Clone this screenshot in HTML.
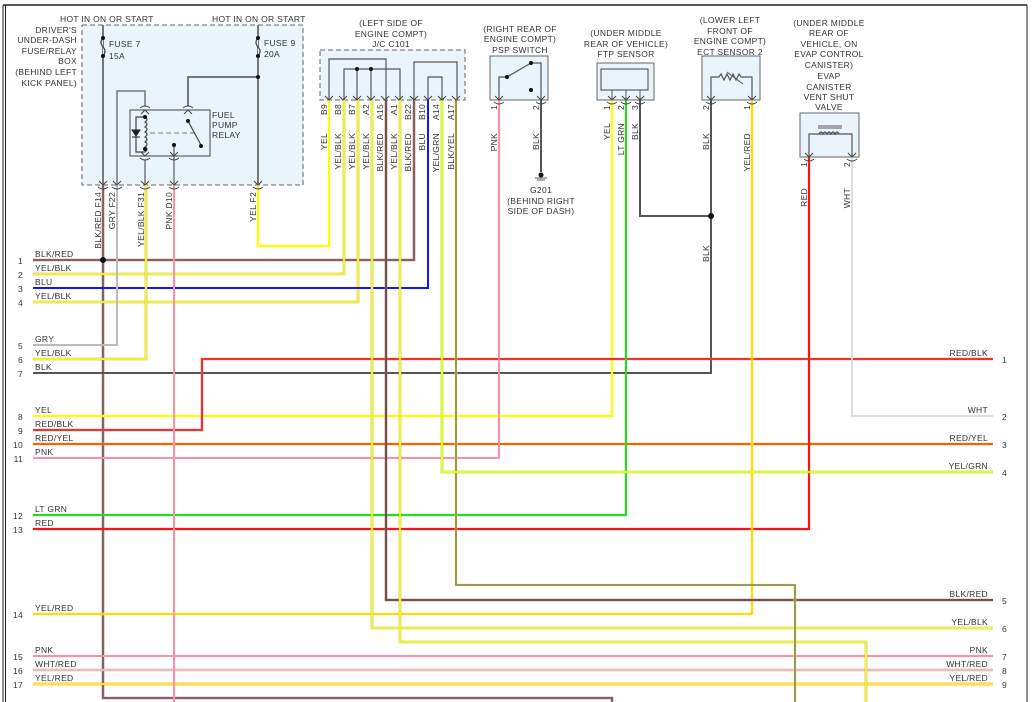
<!DOCTYPE html>
<html><head><meta charset="utf-8"><style>
html,body{margin:0;padding:0;background:#fff}
svg{display:block}
text{font-family:"Liberation Sans",sans-serif;font-size:8.5px;fill:#333;letter-spacing:0.3px}
</style></head><body>
<svg width="1032" height="702" viewBox="0 0 1032 702" xmlns="http://www.w3.org/2000/svg">
<line x1="3" y1="5" x2="1027" y2="5" stroke="#222" stroke-width="1.5"/>
<line x1="3" y1="5" x2="3" y2="702" stroke="#222" stroke-width="1"/>
<line x1="5.5" y1="5" x2="5.5" y2="702" stroke="#222" stroke-width="1"/>
<line x1="1027" y1="5" x2="1027" y2="702" stroke="#222" stroke-width="1"/>

<rect x="82" y="25" width="221" height="160" fill="#e9f5fb" stroke="#666" stroke-dasharray="5,3"/>
<rect x="320" y="50" width="145" height="50" fill="#e9f5fb" stroke="#666" stroke-dasharray="5,3"/>
<rect x="490" y="56" width="58" height="44" fill="#e9f5fb" stroke="#666"/>
<rect x="597" y="63" width="57" height="37" fill="#e9f5fb" stroke="#666"/>
<rect x="601" y="69" width="47" height="21" fill="none" stroke="#444"/>
<rect x="702" y="56" width="58" height="44" fill="#e9f5fb" stroke="#666"/>
<rect x="800" y="113" width="59" height="44" fill="#e9f5fb" stroke="#666"/>
<rect x="130" y="110" width="80" height="46" fill="none" stroke="#444"/>

<g fill="none" stroke-linejoin="miter">
<polyline points="103,25 103,185" stroke="#777" stroke-width="2"/>
<polyline points="258,25 258,185" stroke="#777" stroke-width="2"/>
<polyline points="258,77 188,77 188,106" stroke="#777" stroke-width="2"/>
<polyline points="117,185 117,91 145,91 145,106" stroke="#777" stroke-width="1.5"/>
<polyline points="145,160 145,185" stroke="#777" stroke-width="1.5"/>
<polyline points="174,146 174,185" stroke="#777" stroke-width="1.5"/>
<path d="M103,38 q-4,4 0,9 q4,4 0,9" stroke="#444" stroke-width="1.2" fill="#e9f5fb"/>
<path d="M258,38 q-4,4 0,9 q4,4 0,9" stroke="#444" stroke-width="1.2" fill="#e9f5fb"/>
<polyline points="145,117 145,152" stroke="#e9f5fb" stroke-width="3"/>
<path d="M145,117 q4,2 0,5 q4,2 0,5 q4,2 0,5 q4,2 0,5 q4,2 0,5 q4,2 0,5 q4,2 0,5" stroke="#444" stroke-width="1.2"/>
<polyline points="145,117 136,117 136,152 145,152" stroke="#444" stroke-width="1.2"/>
<polygon points="132,130 140,130 136,136" fill="#222" stroke="#222"/>
<line x1="132" y1="137" x2="140" y2="137" stroke="#222"/>
<line x1="150" y1="133" x2="195" y2="133" stroke="#777" stroke-dasharray="5,3"/>
<line x1="188" y1="121" x2="201" y2="145" stroke="#444" stroke-width="1.2"/>
<polyline points="329,100 329,59 386,59 386,100" stroke="#555" stroke-width="1.2"/>
<polyline points="344,100 344,69 400,69 400,100" stroke="#555" stroke-width="1.2"/>
<line x1="357" y1="69" x2="357" y2="100" stroke="#555" stroke-width="1.2"/>
<line x1="371" y1="69" x2="371" y2="100" stroke="#555" stroke-width="1.2"/>
<polyline points="414,100 414,62 457,62 457,100" stroke="#555" stroke-width="1.2"/>
<polyline points="428,100 428,77 442,77 442,100" stroke="#555" stroke-width="1.2"/>
<polyline points="499,100 499,77 507,77 531,63 541,63 541,100" stroke="#555" stroke-width="1.2"/>
<line x1="612" y1="90" x2="612" y2="100" stroke="#555"/><line x1="626" y1="90" x2="626" y2="100" stroke="#555"/><line x1="640" y1="90" x2="640" y2="100" stroke="#555"/>
<polyline points="711,100 711,77 719,77 721,74 724,80 727,74 730,80 733,74 736,80 739,74 741,77 752,77 752,100" stroke="#555" stroke-width="1.2"/>
<line x1="727" y1="72" x2="743" y2="84" stroke="#555"/>
<polyline points="809,157 809,134 852,134 852,157" stroke="#555" stroke-width="1.2"/>
<path d="M819,134 q2,-4 4,0 q2,-4 4,0 q2,-4 4,0 q2,-4 4,0 q2,-4 4,0" stroke="#555" stroke-width="1.2"/>
<line x1="818" y1="126" x2="842" y2="126" stroke="#555"/><line x1="818" y1="128" x2="842" y2="128" stroke="#555"/>

<polyline points="33,260 414,260 414,100" stroke="#e06060" stroke-width="2.6"/>
<polyline points="33,260 414,260 414,100" stroke="#6a6a6a" stroke-width="1.8"/>
<polyline points="103,185 103,698 612,698 612,702" stroke="#e06060" stroke-width="2.6"/>
<polyline points="103,185 103,698 612,698 612,702" stroke="#6a6a6a" stroke-width="1.8"/>
<polyline points="33,274 344,274 344,100" stroke="#aaa" stroke-width="2.6"/>
<polyline points="33,274 344,274 344,100" stroke="#ff0" stroke-width="1.8"/>
<polyline points="33,302 358,302 358,100" stroke="#aaa" stroke-width="2.6"/>
<polyline points="33,302 358,302 358,100" stroke="#ff0" stroke-width="1.8"/>
<polyline points="33,288 428,288 428,100" stroke="#1414ff" stroke-width="2"/>
<polyline points="33,345 117,345 117,185" stroke="#bbb" stroke-width="2"/>
<polyline points="33,359 146,359 146,185" stroke="#aaa" stroke-width="2.6"/>
<polyline points="33,359 146,359 146,185" stroke="#ff0" stroke-width="1.8"/>
<polyline points="33,373 711,373 711,100" stroke="#555" stroke-width="2"/>
<polyline points="640,100 640,216 711,216" stroke="#555" stroke-width="2"/>
<polyline points="33,416 612,416 612,100" stroke="#ff0" stroke-width="2.2"/>
<polyline points="33,430 202,430 202,359 993,359" stroke="#999" stroke-width="2.6"/>
<polyline points="33,430 202,430 202,359 993,359" stroke="#f22" stroke-width="1.8"/>
<polyline points="33,444 993,444" stroke="#fd0" stroke-width="2.6"/>
<polyline points="33,444 993,444" stroke="#f42" stroke-width="1.8"/>
<polyline points="33,458 499,458 499,100" stroke="#ff8fa8" stroke-width="2"/>
<polyline points="33,515 626,515 626,100" stroke="#2d2" stroke-width="2.2"/>
<polyline points="33,529 809,529 809,157" stroke="#f11" stroke-width="2.2"/>
<polyline points="33,614 752,614 752,100" stroke="#ff0" stroke-width="2.6"/>
<polyline points="33,614 752,614 752,100" stroke="#fa5" stroke-width="1"/>
<polyline points="33,656 993,656" stroke="#ff8fa8" stroke-width="2"/>
<polyline points="33,670 993,670" stroke="#e8a0a0" stroke-width="2.4"/>
<polyline points="33,670 993,670" stroke="#ddd" stroke-width="1"/>
<polyline points="33,684 993,684" stroke="#e66" stroke-width="2.6"/>
<polyline points="33,684 993,684" stroke="#ff0" stroke-width="1.8"/>
<polyline points="174,185 174,702" stroke="#ff8fa8" stroke-width="2"/>
<polyline points="258,185 258,246 329,246 329,100" stroke="#ff0" stroke-width="2.2"/>
<polyline points="386,100 386,600 993,600" stroke="#e06060" stroke-width="2.6"/>
<polyline points="386,100 386,600 993,600" stroke="#555" stroke-width="1.8"/>
<polyline points="372,100 372,628 993,628" stroke="#aaa" stroke-width="2.6"/>
<polyline points="372,100 372,628 993,628" stroke="#ff0" stroke-width="1.8"/>
<polyline points="400,100 400,642 866,642 866,702" stroke="#aaa" stroke-width="2.6"/>
<polyline points="400,100 400,642 866,642 866,702" stroke="#ff0" stroke-width="1.8"/>
<polyline points="456,100 456,585 795,585 795,702" stroke="#ff0" stroke-width="2.6"/>
<polyline points="456,100 456,585 795,585 795,702" stroke="#888" stroke-width="1.8"/>
<polyline points="442,100 442,472 993,472" stroke="#7c7" stroke-width="2.6"/>
<polyline points="442,100 442,472 993,472" stroke="#ff0" stroke-width="1.8"/>
<polyline points="852,157 852,416 993,416" stroke="#ddd" stroke-width="2"/>
<polyline points="541,100 541,172" stroke="#555" stroke-width="2"/>
<line x1="535" y1="178" x2="547" y2="178" stroke="#555"/>
<line x1="537" y1="180" x2="545" y2="180" stroke="#555"/>

<g stroke="#444" stroke-width="1">
<path d="M99,181 l4,4 l4,-4 M98,187 q5,4 10,0"/>
<path d="M113,181 l4,4 l4,-4 M112,187 q5,4 10,0"/>
<path d="M141,181 l4,4 l4,-4 M140,187 q5,4 10,0"/>
<path d="M170,181 l4,4 l4,-4 M169,187 q5,4 10,0"/>
<path d="M254,181 l4,4 l4,-4 M253,187 q5,4 10,0"/>
<path d="M141,152 l4,4 l4,-4 M140,158 q5,4 10,0"/>
<path d="M170,152 l4,4 l4,-4 M169,158 q5,4 10,0"/>
<path d="M140,108 q5,-4 10,0 M141,114 l4,-4 l4,4"/>
<path d="M183,108 q5,-4 10,0 M184,114 l4,-4 l4,4"/>
<path d="M325,96 l4,4 l4,-4 M339,96 l4,4 l4,-4 M353,96 l4,4 l4,-4 M367,96 l4,4 l4,-4 M381,96 l4,4 l4,-4 M395,96 l4,4 l4,-4 M410,96 l4,4 l4,-4 M424,96 l4,4 l4,-4 M438,96 l4,4 l4,-4 M452,96 l4,4 l4,-4"/>
<path d="M495,96 l4,4 l4,-4 M494,102 q5,4 10,0 M537,96 l4,4 l4,-4 M536,102 q5,4 10,0"/>
<path d="M608,96 l4,4 l4,-4 M622,96 l4,4 l4,-4 M636,96 l4,4 l4,-4 M607,102 q5,4 10,0 M621,102 q5,4 10,0 M635,102 q5,4 10,0"/>
<path d="M707,96 l4,4 l4,-4 M706,102 q5,4 10,0 M748,96 l4,4 l4,-4 M747,102 q5,4 10,0"/>
<path d="M805,153 l4,4 l4,-4 M804,159 q5,4 10,0 M848,153 l4,4 l4,-4 M847,159 q5,4 10,0"/>
</g>
</g>
<g fill="#111">
<circle cx="103" cy="38" r="2"/><circle cx="103" cy="56" r="2"/>
<circle cx="258" cy="38" r="2"/><circle cx="258" cy="56" r="2"/>
<circle cx="258" cy="77" r="2"/>
<circle cx="145" cy="117" r="2"/><circle cx="145" cy="149" r="2"/>
<circle cx="174" cy="145" r="2"/><circle cx="188" cy="121" r="2"/><circle cx="201" cy="146" r="2"/>
<circle cx="357" cy="69" r="2"/><circle cx="371" cy="69" r="2"/>
<circle cx="507" cy="77" r="2"/><circle cx="531" cy="63" r="2"/><circle cx="531" cy="90" r="2"/>
<circle cx="103" cy="260" r="3"/>
<circle cx="711" cy="216" r="3"/>
<circle cx="541" cy="175" r="2.5"/>
</g>

<text x="60" y="22">HOT IN ON OR START</text>
<text x="212" y="22">HOT IN ON OR START</text>
<g text-anchor="end">
<text x="77" y="33">DRIVER'S</text><text x="77" y="43">UNDER-DASH</text><text x="77" y="54">FUSE/RELAY</text>
<text x="77" y="64">BOX</text><text x="77" y="75">(BEHIND LEFT</text><text x="77" y="86">KICK PANEL)</text>
</g>
<text x="109" y="47">FUSE 7</text><text x="109" y="59">15A</text>
<text x="264" y="46">FUSE 9</text><text x="264" y="57">20A</text>
<text x="212" y="118">FUEL</text><text x="212" y="128">PUMP</text><text x="212" y="138">RELAY</text>
<g text-anchor="middle">
<text x="391" y="26">(LEFT SIDE OF</text><text x="391" y="37">ENGINE COMPT)</text><text x="391" y="47">J/C C101</text>
<text x="520" y="32">(RIGHT REAR OF</text><text x="520" y="42">ENGINE COMPT)</text><text x="520" y="53">PSP SWITCH</text>
<text x="626" y="36">(UNDER MIDDLE</text><text x="626" y="47">REAR OF VEHICLE)</text><text x="626" y="57">FTP SENSOR</text>
<text x="730" y="23">(LOWER LEFT</text><text x="730" y="34">FRONT OF</text><text x="730" y="44">ENGINE COMPT)</text><text x="730" y="55">ECT SENSOR 2</text>
<text x="829" y="26">(UNDER MIDDLE</text><text x="829" y="36">REAR OF</text><text x="829" y="47">VEHICLE, ON</text><text x="829" y="57">EVAP CONTROL</text><text x="829" y="68">CANISTER)</text><text x="829" y="79">EVAP</text><text x="829" y="90">CANISTER</text><text x="829" y="100">VENT SHUT</text><text x="829" y="110">VALVE</text>
<text x="541" y="193">G201</text><text x="541" y="204">(BEHIND RIGHT</text><text x="541" y="214">SIDE OF DASH)</text>
</g>

<g text-anchor="end">
<text transform="translate(101,192) rotate(-90)">BLK/RED F14</text>
<text transform="translate(115,192) rotate(-90)">GRY F22</text>
<text transform="translate(144,192) rotate(-90)">YEL/BLK F31</text>
<text transform="translate(172,192) rotate(-90)">PNK D10</text>
<text transform="translate(256,192) rotate(-90)">YEL F2</text>
<text transform="translate(327,104) rotate(-90)">B9</text>
<text transform="translate(341,104) rotate(-90)">B8</text>
<text transform="translate(355,104) rotate(-90)">B7</text>
<text transform="translate(369,104) rotate(-90)">A2</text>
<text transform="translate(383,104) rotate(-90)">A15</text>
<text transform="translate(397,104) rotate(-90)">A1</text>
<text transform="translate(411,104) rotate(-90)">B22</text>
<text transform="translate(425,104) rotate(-90)">B10</text>
<text transform="translate(439,104) rotate(-90)">A14</text>
<text transform="translate(454,104) rotate(-90)">A17</text>
<text transform="translate(327,133) rotate(-90)">YEL</text>
<text transform="translate(341,133) rotate(-90)">YEL/BLK</text>
<text transform="translate(355,133) rotate(-90)">YEL/BLK</text>
<text transform="translate(369,133) rotate(-90)">YEL/BLK</text>
<text transform="translate(383,133) rotate(-90)">BLK/RED</text>
<text transform="translate(397,133) rotate(-90)">YEL/BLK</text>
<text transform="translate(411,133) rotate(-90)">BLK/RED</text>
<text transform="translate(425,133) rotate(-90)">BLU</text>
<text transform="translate(439,133) rotate(-90)">YEL/GRN</text>
<text transform="translate(454,133) rotate(-90)">BLK/YEL</text>
<text transform="translate(497,105) rotate(-90)">1</text>
<text transform="translate(497,133) rotate(-90)">PNK</text>
<text transform="translate(539,105) rotate(-90)">2</text>
<text transform="translate(539,133) rotate(-90)">BLK</text>
<text transform="translate(610,105) rotate(-90)">1</text>
<text transform="translate(610,123) rotate(-90)">YEL</text>
<text transform="translate(624,105) rotate(-90)">2</text>
<text transform="translate(624,123) rotate(-90)">LT GRN</text>
<text transform="translate(638,105) rotate(-90)">3</text>
<text transform="translate(638,123) rotate(-90)">BLK</text>
<text transform="translate(709,105) rotate(-90)">2</text>
<text transform="translate(709,133) rotate(-90)">BLK</text>
<text transform="translate(750,105) rotate(-90)">1</text>
<text transform="translate(750,133) rotate(-90)">YEL/RED</text>
<text transform="translate(807,162) rotate(-90)">1</text>
<text transform="translate(807,188) rotate(-90)">RED</text>
<text transform="translate(850,162) rotate(-90)">2</text>
<text transform="translate(850,188) rotate(-90)">WHT</text>
<text transform="translate(709,245) rotate(-90)">BLK</text>
</g>

<g>
<text x="35" y="257">BLK/RED</text><text x="35" y="271">YEL/BLK</text><text x="35" y="285">BLU</text><text x="35" y="299">YEL/BLK</text>
<text x="35" y="342">GRY</text><text x="35" y="356">YEL/BLK</text><text x="35" y="370">BLK</text>
<text x="35" y="413">YEL</text><text x="35" y="427">RED/BLK</text><text x="35" y="441">RED/YEL</text><text x="35" y="455">PNK</text>
<text x="35" y="512">LT GRN</text><text x="35" y="526">RED</text><text x="35" y="611">YEL/RED</text>
<text x="35" y="653">PNK</text><text x="35" y="667">WHT/RED</text><text x="35" y="681">YEL/RED</text>
</g>
<g text-anchor="end">
<text x="23" y="264">1</text><text x="23" y="278">2</text><text x="23" y="292">3</text><text x="23" y="306">4</text>
<text x="23" y="349">5</text><text x="23" y="363">6</text><text x="23" y="377">7</text>
<text x="23" y="420">8</text><text x="23" y="434">9</text><text x="23" y="448">10</text><text x="23" y="462">11</text>
<text x="23" y="519">12</text><text x="23" y="533">13</text><text x="23" y="618">14</text>
<text x="23" y="660">15</text><text x="23" y="674">16</text><text x="23" y="688">17</text>
<text x="988" y="356">RED/BLK</text><text x="988" y="413">WHT</text><text x="988" y="441">RED/YEL</text><text x="988" y="469">YEL/GRN</text>
<text x="988" y="597">BLK/RED</text><text x="988" y="625">YEL/BLK</text><text x="988" y="653">PNK</text><text x="988" y="667">WHT/RED</text><text x="988" y="681">YEL/RED</text>
</g>
<g>
<text x="1002" y="363">1</text><text x="1002" y="420">2</text><text x="1002" y="448">3</text><text x="1002" y="476">4</text>
<text x="1002" y="604">5</text><text x="1002" y="632">6</text><text x="1002" y="660">7</text><text x="1002" y="674">8</text><text x="1002" y="688">9</text>
</g>
</svg>
</body></html>
